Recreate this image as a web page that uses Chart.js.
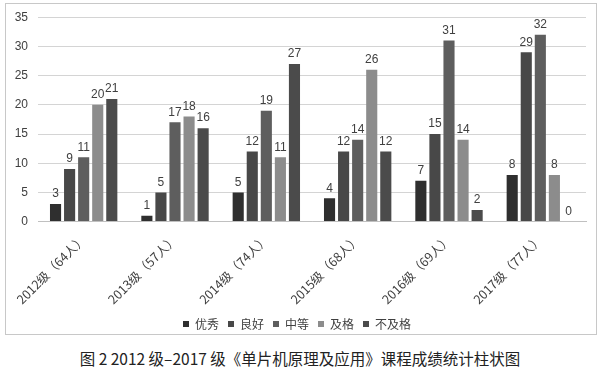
<!DOCTYPE html>
<html>
<head>
<meta charset="utf-8">
<script src="https://cdn.jsdelivr.net/npm/chart.js@4"></script>
<style>
    body { margin: 0; background: #fff; }
    #frame { position: absolute; left: 5px; top: 3px; width: 590px; height: 330px; border: 1px solid #c8c8c8; }
    #wrap { position: absolute; left: 0; top: 0; width: 600px; height: 340px; }
    #caption { position: absolute; left: 0; top: 347px; width: 600px; text-align: center;
        font-family: "Noto Sans CJK SC", "DejaVu Serif", serif; font-size: 15.5px; color: #222; }
</style>
</head>
<body>
<div id="frame"></div>
<div id="wrap"><canvas id="myChart" width="600" height="340"></canvas></div>
<div id="caption">图 2 2012 级–2017 级《单片机原理及应用》课程成绩统计柱状图</div>
<script>
// Categories and series
let years = ['2012级（64人）', '2013级（57人）', '2014级（74人）', '2015级（68人）', '2016级（69人）', '2017级（77人）'];
let excellent = [3, 1, 5, 4, 7, 8];
let good = [9, 5, 12, 12, 15, 29];
let medium = [11, 17, 19, 14, 31, 32];
let pass = [20, 18, 11, 26, 14, 8];
let fail = [21, 16, 27, 12, 2, 0];
let seriesNames = ['优秀', '良好', '中等', '及格', '不及格'];
let seriesColors = ['#2f2f2f', '#484848', '#5e5e5e', '#8c8c8c', '#4b4b4b'];

// Draw the value above each bar
let valueLabels = {
    id: 'valueLabels',
    afterDatasetsDraw(chart) {
        let ctx = chart.ctx;
        ctx.save();
        ctx.font = '12px "Liberation Sans", Arial, sans-serif';
        ctx.fillStyle = '#404040';
        ctx.textAlign = 'center';
        ctx.textBaseline = 'bottom';
        chart.data.datasets.forEach((ds, i) => {
            chart.getDatasetMeta(i).data.forEach((bar, j) => {
                ctx.fillText(ds.data[j], bar.x, bar.y - 4);
            });
        });
        ctx.restore();
    }
};

let allSeries = [excellent, good, medium, pass, fail];

let ctx = document.getElementById('myChart').getContext('2d');
let chart = new Chart(ctx, {
    type: 'bar',
    data: {
        labels: years,
        datasets: allSeries.map((values, i) => ({
            label: seriesNames[i],
            data: values,
            backgroundColor: seriesColors[i],
            categoryPercentage: 0.77,
            barPercentage: 0.79
        }))
    },
    options: {
        responsive: false,
        animation: false,
        layout: { padding: { left: 8, right: 14, top: 17, bottom: 0 } },
        plugins: {
            legend: {
                position: 'bottom',
                labels: {
                    boxWidth: 6,
                    boxHeight: 6,
                    padding: 9,
                    color: '#404040',
                    font: { size: 12, family: '"Noto Sans CJK SC", sans-serif' }
                }
            },
            tooltip: { enabled: false }
        },
        scales: {
            x: {
                grid: { display: false },
                border: { color: '#c0c0c0', width: 1 },
                ticks: {
                    maxRotation: 45,
                    minRotation: 45,
                    padding: 2,
                    color: '#404040',
                    font: { size: 12.5, family: '"Noto Sans CJK SC", sans-serif' }
                }
            },
            y: {
                min: 0,
                max: 35,
                afterFit(axis) { axis.width = 30; },
                grid: { color: '#d4d4d4', drawTicks: false },
                border: { display: false },
                ticks: {
                    stepSize: 5,
                    padding: 10,
                    color: '#404040',
                    font: { size: 12, family: '"Liberation Sans", Arial, sans-serif' }
                }
            }
        }
    },
    plugins: [valueLabels]
});
</script>
</body>
</html>
